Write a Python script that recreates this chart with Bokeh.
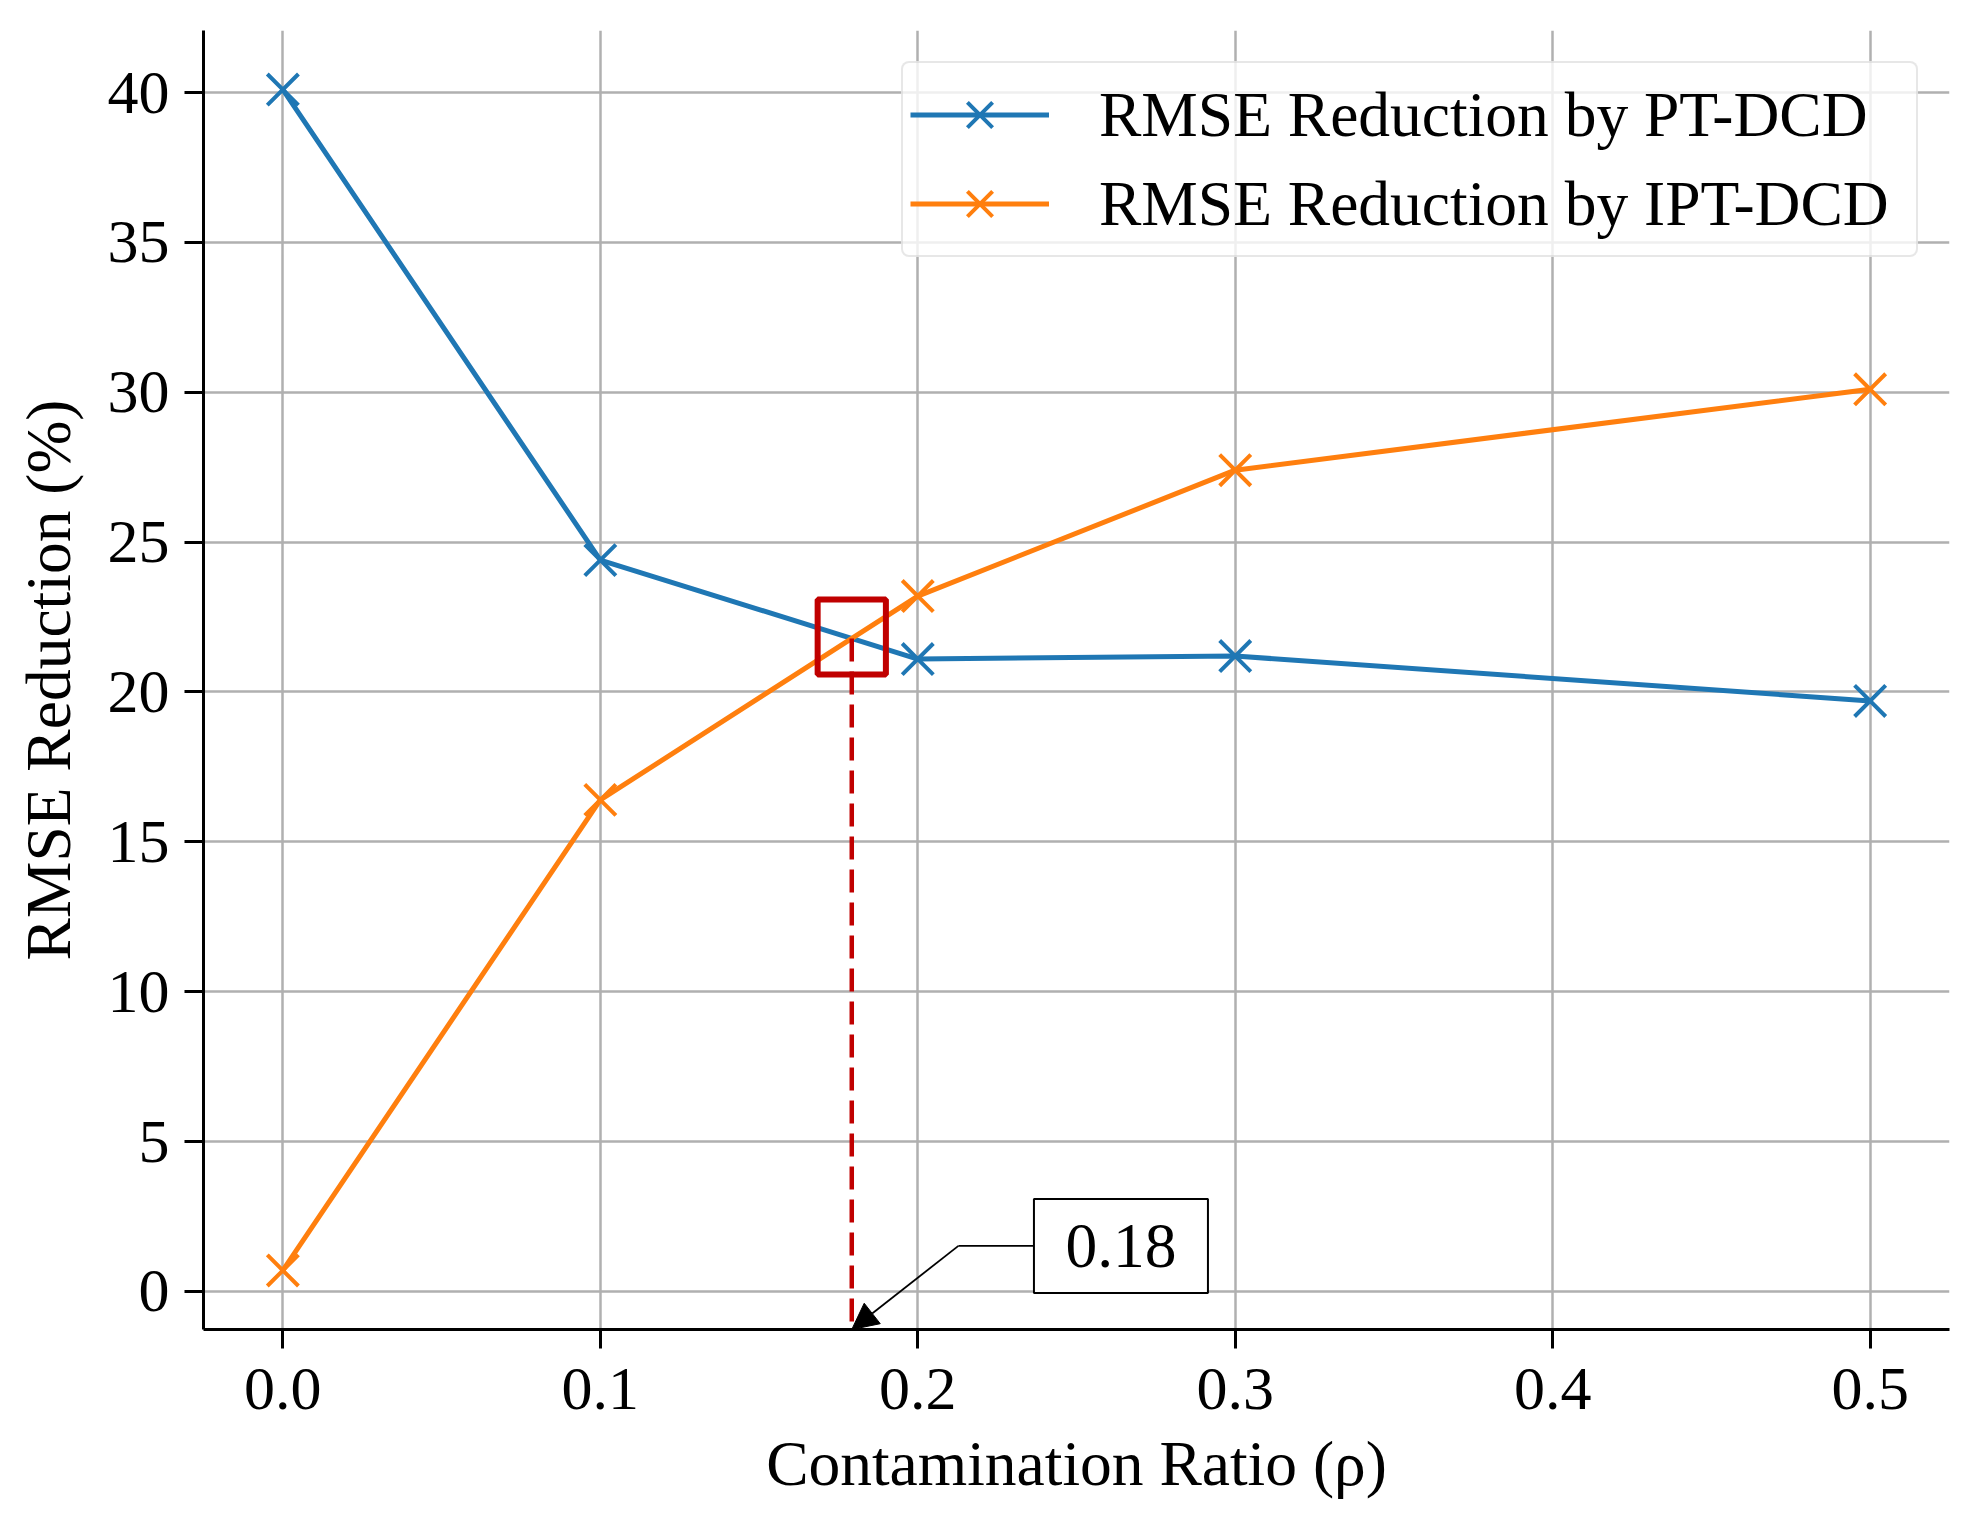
from bokeh.plotting import figure
from bokeh.models import Range1d, FixedTicker, Arrow, NormalHead, Legend, PrintfTickFormatter
from bokeh.core.properties import value
from bokeh.embed import file_html
from bokeh.resources import INLINE

# ---- data ----
ratios = [0.0, 0.1, 0.2, 0.3, 0.5]
pt_dcd = [40.1, 24.4, 21.1, 21.2, 19.7]
ipt_dcd = [0.7, 16.4, 23.2, 27.4, 30.1]
series_names = ["RMSE Reduction by PT-DCD", "RMSE Reduction by IPT-DCD"]
x_ticks = [0.0, 0.1, 0.2, 0.3, 0.4, 0.5]
y_ticks = [0, 5, 10, 15, 20, 25, 30, 35, 40]
x_title = "Contamination Ratio (\u03c1)"
y_title = "RMSE Reduction (%)"
cross_label = "0.18"
# annotation box anchor (data units) and connector bend
note_x, note_y = 0.264, 1.52
bend_x = 0.2128

BLUE = "#1f77b4"
ORANGE = "#ff7f0e"
RED = "#c00000"
FONT = "Liberation Serif"
FS_TICK = "62px"
FS_LABEL = "63.5px"
FS_LEGEND = "63.5px"

# crossing point between 0.1 and 0.2 (linear interpolation of the two segments)
x0, x1 = ratios[1], ratios[2]
d0 = pt_dcd[1] - ipt_dcd[1]
d1 = pt_dcd[2] - ipt_dcd[2]
t = d0 / (d0 - d1)
cross_x = x0 + t * (x1 - x0)
cross_y = pt_dcd[1] + t * (pt_dcd[2] - pt_dcd[1])

all_y = pt_dcd + ipt_dcd
span = max(all_y) - min(all_y)
y0 = min(all_y) - 0.05 * span
y1 = max(all_y) + 0.05 * span

p = figure(width=1966, height=1514,
           x_range=Range1d(-0.025, 0.525), y_range=Range1d(y0, y1),
           output_backend="svg", toolbar_location=None,
           min_border_left=203, min_border_right=17,
           min_border_top=30, min_border_bottom=185)
p.outline_line_color = None
p.background_fill_color = "white"
p.border_fill_color = "white"

# grid
for g in (p.xgrid[0], p.ygrid[0]):
    g.grid_line_color = "#b0b0b0"
    g.grid_line_width = 2.5
p.xgrid[0].ticker = FixedTicker(ticks=x_ticks)
p.ygrid[0].ticker = FixedTicker(ticks=y_ticks)

# axes
xa = p.xaxis[0]
ya = p.yaxis[0]
xa.ticker = FixedTicker(ticks=x_ticks)
xa.formatter = PrintfTickFormatter(format="%.1f")
ya.ticker = FixedTicker(ticks=y_ticks)
for ax in (xa, ya):
    ax.axis_line_color = "black"
    ax.axis_line_width = 3
    ax.major_tick_line_color = "black"
    ax.major_tick_line_width = 3
    ax.major_tick_in = 0
    ax.major_tick_out = 19
    ax.minor_tick_line_color = None
    ax.major_label_text_font = FONT
    ax.major_label_text_font_size = FS_TICK
    ax.major_label_text_color = "black"
    ax.axis_label_text_font = FONT
    ax.axis_label_text_font_size = FS_LABEL
    ax.axis_label_text_font_style = "normal"
    ax.axis_label_text_color = "black"
xa.axis_label = x_title
ya.axis_label = y_title
xa.major_label_standoff = 20
xa.axis_label_standoff = 16
ya.major_label_standoff = 15
ya.axis_label_standoff = 21

# series
p.line(ratios, pt_dcd, line_color=BLUE, line_width=5, legend_label=series_names[0])
p.scatter(ratios, pt_dcd, marker="x", size=44, line_color=BLUE, line_width=4,
          legend_label=series_names[0])
p.line(ratios, ipt_dcd, line_color=ORANGE, line_width=5, legend_label=series_names[1])
p.scatter(ratios, ipt_dcd, marker="x", size=44, line_color=ORANGE, line_width=4,
          legend_label=series_names[1])

# crossing highlight
p.line([cross_x, cross_x], [cross_y, y0], line_color=RED, line_width=4.5, line_dash="23 10")
p.rect(x=[cross_x], y=[cross_y + 0.05], width=0.0215, height=2.5, fill_color=None,
       line_color=RED, line_width=6)

# annotation with arrow
p.line([bend_x, note_x], [note_y, note_y], line_color="black", line_width=1.8)
p.add_layout(Arrow(end=NormalHead(size=26, fill_color="black", line_color="black"),
                   x_start=bend_x, y_start=note_y, x_end=cross_x, y_end=y0,
                   line_color="black", line_width=1.8))
p.rect(x=[note_x], y=[note_y], width=174, height=94, width_units="screen",
       height_units="screen", fill_color="white", line_color="black", line_width=2)
p.text(x=[note_x], y=[note_y], text=[cross_label], text_font=value(FONT),
       text_font_size=FS_LABEL, text_align="center", text_baseline="middle",
       text_color="black")

# legend
lg = p.legend[0]
lg.location = "top_right"
lg.margin = 31
lg.padding = 7
lg.spacing = 0
lg.glyph_width = 139
lg.glyph_height = 89
lg.label_standoff = 50
lg.label_width = 810
lg.label_text_font = FONT
lg.label_text_font_size = FS_LEGEND
lg.label_text_color = "black"
lg.border_line_color = "#d0d0d0"
lg.border_line_width = 2.5
lg.background_fill_color = "white"
lg.background_fill_alpha = 0.8
if "border_radius" in Legend.properties():
    lg.border_radius = 8

open("out.html", "w").write(file_html(p, INLINE))
